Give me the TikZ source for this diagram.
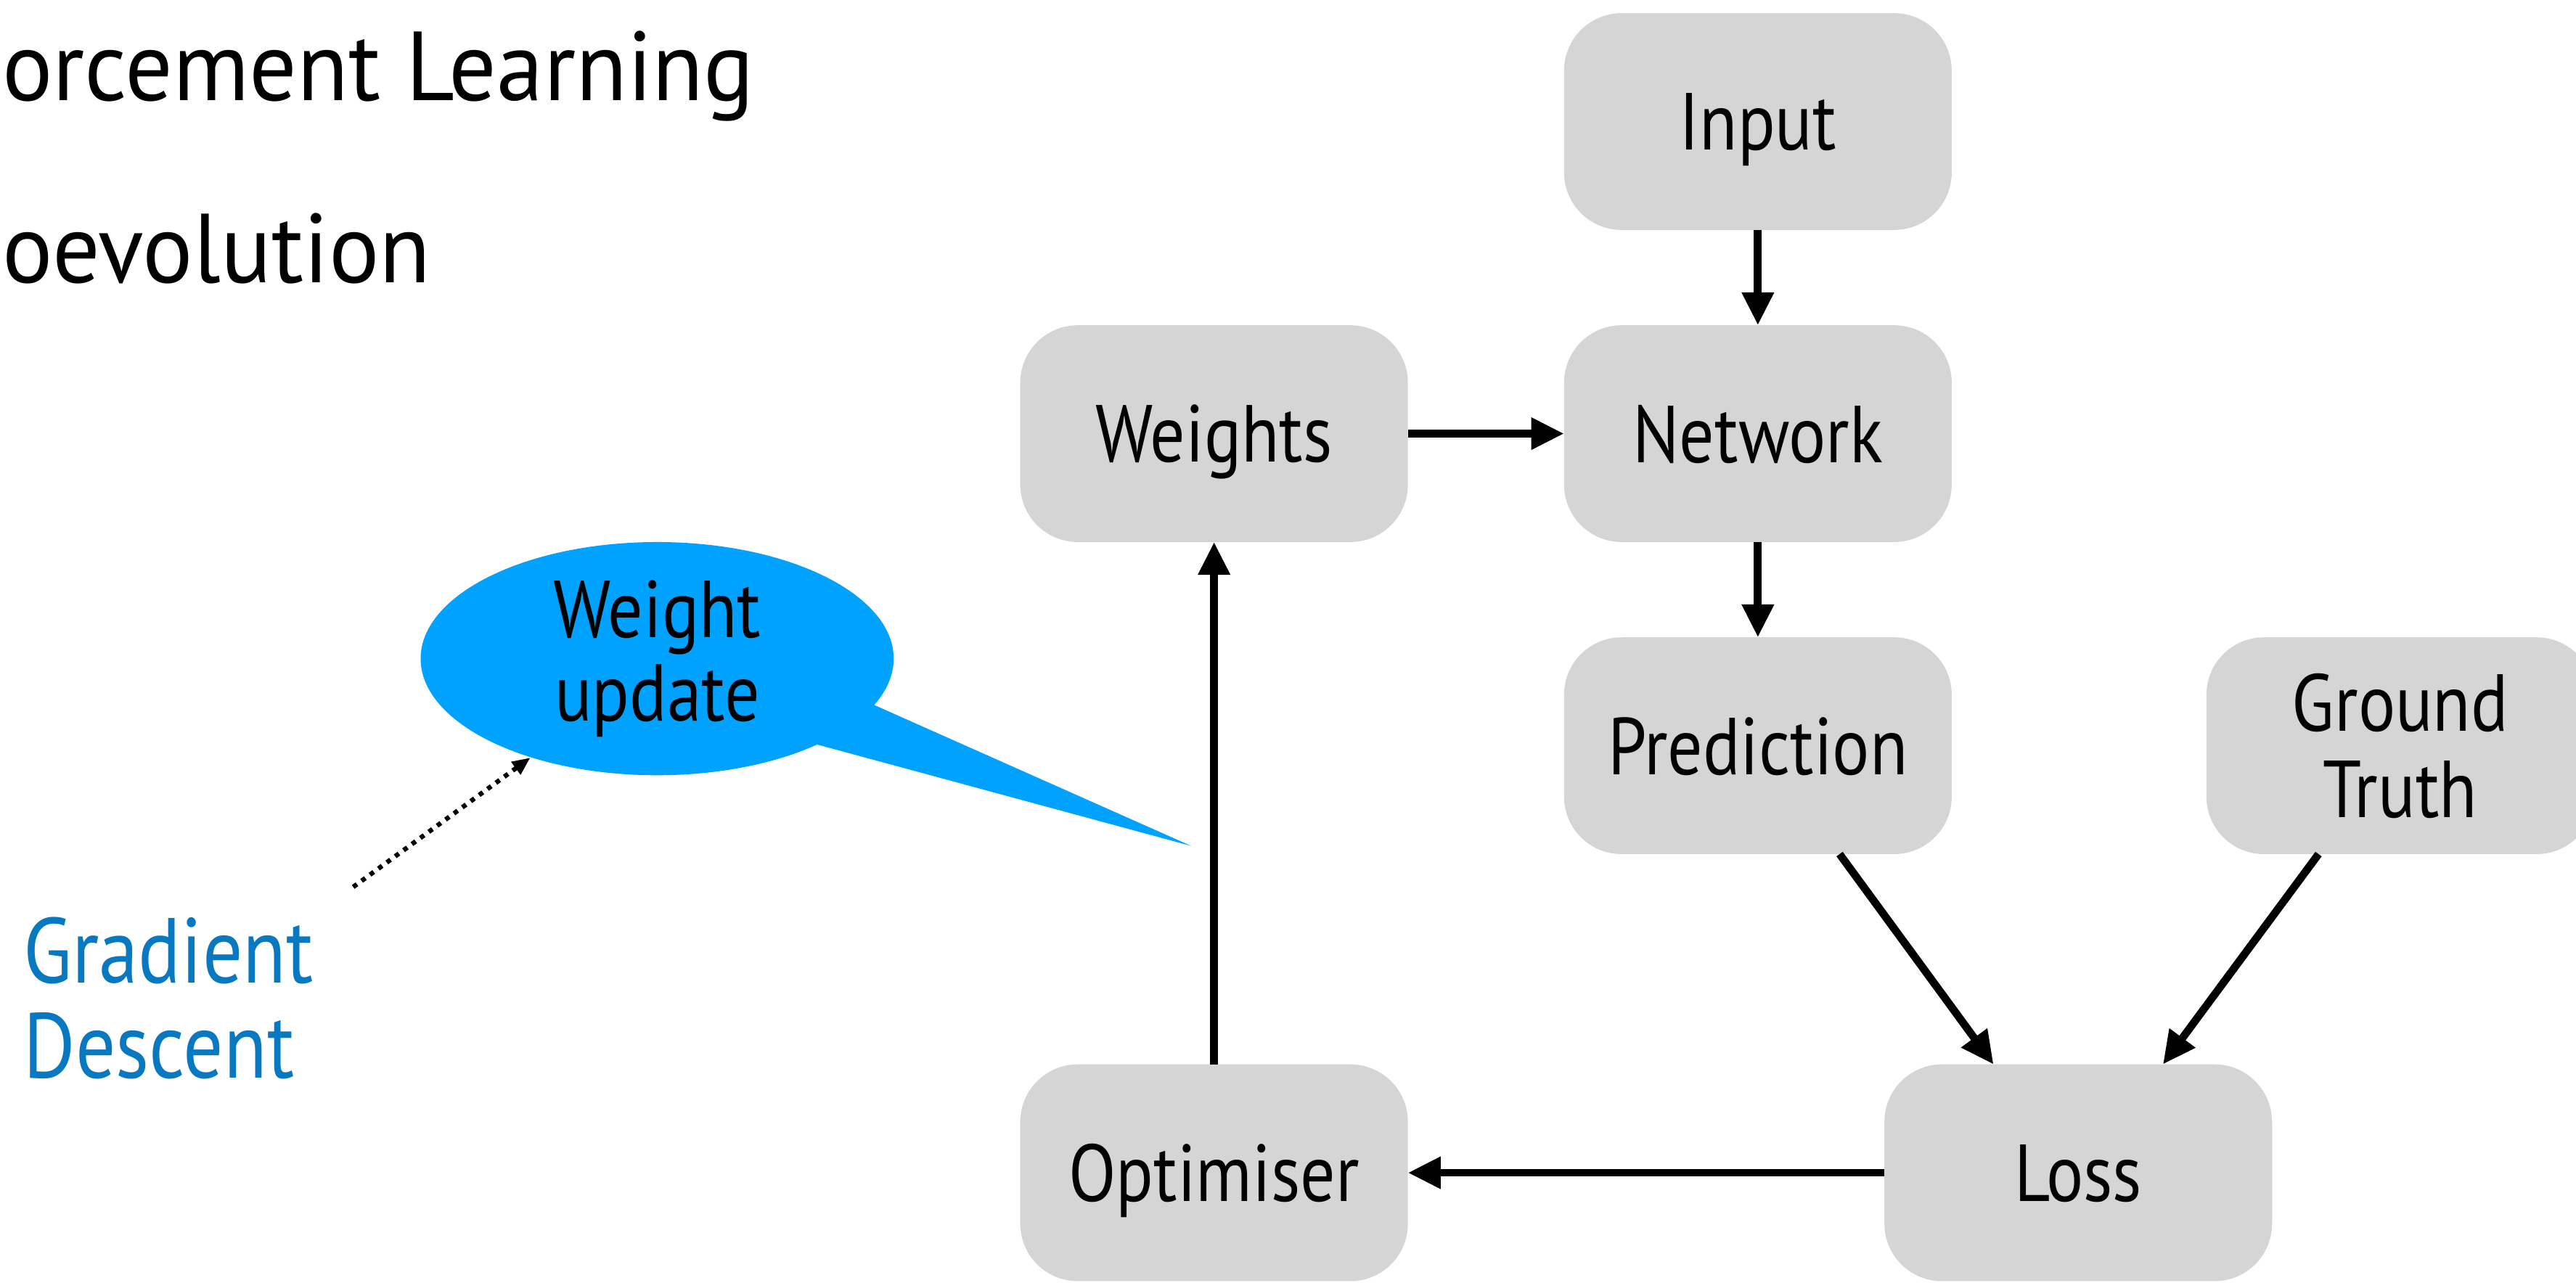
\documentclass[tikz,border=0pt]{standalone}
\usepackage{fontspec}
\setmainfont{PT Sans}[FakeStretch=0.86]
\newfontfamily\headfont{PT Sans}[FakeStretch=0.96]
\usetikzlibrary{arrows.meta,shapes.callouts}

\definecolor{boxgray}{RGB}{213,213,213}
\definecolor{bubbleblue}{RGB}{0,162,255}
\definecolor{gdblue}{RGB}{8,120,192}

\tikzset{
  stage/.style={fill=boxgray, rounded corners=0.7cm, minimum width=4.72cm,
    minimum height=2.64cm, inner sep=0pt, outer sep=0pt, align=center,
    text depth=0pt, font=\fontsize{28}{30}\selectfont},
  flow/.style={line width=2.7pt, -{Triangle[length=0.4cm,width=0.37cm]}},
  bubble/.style={ellipse callout, fill=bubbleblue, minimum width=5.76cm,
    minimum height=2.84cm, inner sep=0pt, align=center,
    callout pointer arc=24, font=\fontsize{28}{29}\selectfont},
  hint/.style={line width=1.6pt, dotted, -{Triangle[length=0.22cm,width=0.18cm]}},
  headline/.style={inner sep=0pt, font=\headfont\fontsize{34}{36}\selectfont},
}

\begin{document}
\begin{tikzpicture}[x=0.02cm,y=-0.02cm]
\useasboundingbox (0,0) rectangle (1568,781);
\clip (0,0) rectangle (1568,781);

% slide text
\node[headline, anchor=base west] (rl) at (1,61) {orcement Learning};
\node[headline, anchor=base west] (neuro) at (1,172) {oevolution};

% training loop
\node[stage] (input) at (1070,74) {Input};
\node[stage] (weights) at (739,264) {Weights};
\node[stage] (network) at (1070,264) {Network};
\node[stage] (pred) at (1070,454) {Prediction};
\node[stage] (truth) at (1461,454) {Ground\\Truth};
\node[stage] (loss) at (1265,714) {Loss};
\node[stage] (optim) at (739,714) {Optimiser};

\draw[flow] (input) -- (network);
\draw[flow] (weights) -- (network);
\draw[flow] (network) -- (pred);
\draw[flow] (pred.-53) -- (loss.128);
\draw[flow] (truth.-127) -- (loss.52);
\draw[flow] (loss) -- (optim);
\draw[flow] (optim) -- (weights);

% weight update callout
\coordinate (tail) at (725,515);
\node[bubble, callout absolute pointer=(tail)] (bubble) at (400,401) {Weight\\update};

\node[anchor=north west, inner sep=0pt, align=left, text=gdblue,
  font=\fontsize{32}{33}\selectfont] (gd) at (14,558) {Gradient\\Descent};
\coordinate (gdfrom) at (215,540);
\draw[hint] (gdfrom) -- (bubble.218);
\end{tikzpicture}
\end{document}
